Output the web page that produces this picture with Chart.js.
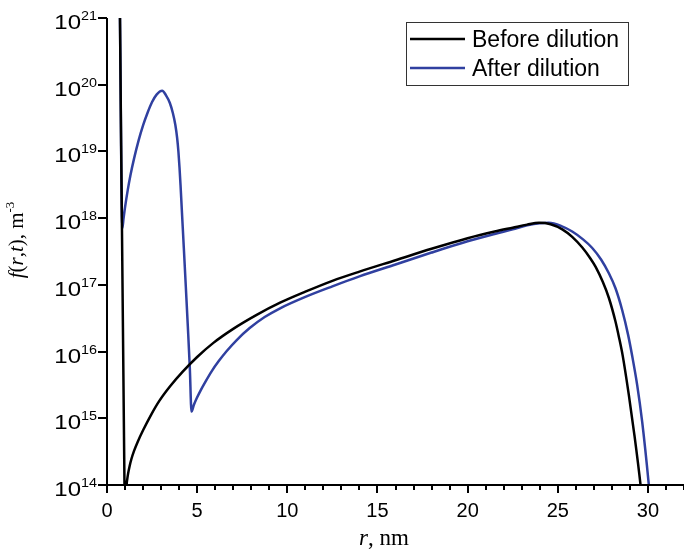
<!DOCTYPE html>
<html>
<head>
<meta charset="utf-8">
<script src="https://cdn.jsdelivr.net/npm/chart.js@4/dist/chart.umd.min.js"></script>
<style>
  html, body { margin: 0; padding: 0; background: #fff; }
</style>
</head>
<body>
<canvas id="sizeChart" width="684" height="550"></canvas>
<script>
// r in nm, f(r,t) in m^-3
const beforeR = [0.70, 0.72, 0.97, 1.00, 1.05, 1.09, 1.12, 1.17, 1.25, 1.35, 1.5, 1.7, 2.0, 2.4, 2.9, 3.5, 4.2, 5.0, 5.9, 7.0, 8.3, 9.6, 11.0, 12.5, 14.0, 16.0, 18.0, 20.0, 21.5, 22.5, 23.3, 23.96, 24.6, 25.25, 25.8, 26.36, 26.8, 27.1, 27.5, 27.84, 28.2, 28.39, 28.6, 28.94, 29.25, 29.59, 29.7];
const beforeF = [4e21, 1e21, 1e14, 3.2e13, 3.2e13, 1e14, 1.2e14, 1.48e14, 1.9e14, 2.43e14, 3.24e14, 4.42e14, 6.6e14, 1.07e15, 1.82e15, 3.02e15, 5e15, 8.3e15, 1.35e16, 2.19e16, 3.55e16, 5.4e16, 7.9e16, 1.15e17, 1.58e17, 2.34e17, 3.47e17, 5e17, 6.3e17, 7.2e17, 8e17, 8.5e17, 8.1e17, 6.8e17, 5.25e17, 3.63e17, 2.51e17, 1.86e17, 1.1e17, 6.3e16, 2.82e16, 1.66e16, 8.7e15, 2.24e15, 5.6e14, 1e14, 5e13];

const afterR = [0.70, 0.72, 0.85, 0.92, 1.0, 1.15, 1.3, 1.5, 1.75, 2.0, 2.25, 2.5, 2.75, 3.06, 3.265, 3.486, 3.652, 3.791, 3.89, 3.962, 4.023, 4.078, 4.15, 4.261, 4.372, 4.482, 4.593, 4.687, 4.815, 4.981, 5.202, 5.479, 5.811, 6.198, 6.641, 7.194, 7.914, 8.744, 9.574, 11.0, 12.5, 14.0, 16.0, 18.0, 20.0, 21.5, 22.5, 23.3, 24.0, 24.5, 25.2, 25.8, 26.4, 26.9, 27.4, 27.84, 28.2, 28.57, 28.9, 29.13, 29.4, 29.68, 30.05, 30.15];
const afterF = [4e21, 1e21, 7.1e17, 1e18, 1.45e18, 2.63e18, 4.4e18, 7.8e18, 1.45e19, 2.45e19, 3.8e19, 5.5e19, 7.1e19, 8.1e19, 7e19, 5.32e19, 3.77e19, 2.49e19, 1.59e19, 9.8e18, 5.64e18, 3.13e18, 1.32e18, 3.56e17, 9.27e16, 2.41e16, 5.66e15, 1.26e15, 1.58e15, 2.01e15, 2.65e15, 3.61e15, 5.1e15, 7.2e15, 1.02e16, 1.49e16, 2.25e16, 3.29e16, 4.42e16, 6.6e16, 9.5e16, 1.34e17, 2.02e17, 3.05e17, 4.5e17, 5.8e17, 6.8e17, 7.8e17, 8.4e17, 8.5e17, 7.6e17, 6.3e17, 4.8e17, 3.6e17, 2.4e17, 1.48e17, 8.9e16, 4.2e16, 1.78e16, 8.5e15, 3.2e15, 8.9e14, 1e14, 5e13];

const seriesNames = ["Before dilution", "After dilution"];
const seriesColors = ["#000000", "#3040a0"];

const xTickLabels = [0, 5, 10, 15, 20, 25, 30];
const yTickExponents = [14, 15, 16, 17, 18, 19, 20, 21];

function toPoints(xs, ys) {
  return xs.map(function (x, i) { return { x: x, y: ys[i] }; });
}

// axes, ticks, labels, titles and legend drawn by hand
const axisDecor = {
  id: "axisDecor",
  afterDraw(chart) {
    const ctx = chart.ctx;
    const xs = chart.scales.x;
    const ys = chart.scales.y;
    const area = chart.chartArea;
    ctx.save();
    ctx.strokeStyle = "#000";
    ctx.fillStyle = "#000";
    ctx.lineWidth = 2;

    // axis lines
    ctx.beginPath();
    ctx.moveTo(area.left, area.top);
    ctx.lineTo(area.left, area.bottom);
    ctx.lineTo(chart.width, area.bottom);
    ctx.stroke();

    // x ticks, minor every 1 nm
    for (let v = 0; v <= 32; v++) {
      const px = Math.round(xs.getPixelForValue(v));
      const len = v % 5 === 0 ? 8 : 5;
      ctx.beginPath();
      ctx.moveTo(px, area.bottom);
      ctx.lineTo(px, area.bottom + len);
      ctx.stroke();
    }
    ctx.font = "20px 'Liberation Sans', Arial, sans-serif";
    ctx.textAlign = "center";
    ctx.textBaseline = "alphabetic";
    xTickLabels.forEach(function (v) {
      ctx.fillText(String(v), xs.getPixelForValue(v), area.bottom + 32);
    });

    // y ticks with 10^n labels (labels a bit wide, like the original)
    const sx = 1.2;
    yTickExponents.forEach(function (e) {
      const py = Math.round(ys.getPixelForValue(Math.pow(10, e)));
      ctx.beginPath();
      ctx.moveTo(area.left - 9, py);
      ctx.lineTo(area.left, py);
      ctx.stroke();
      ctx.save();
      ctx.translate(area.left - 10, 0);
      ctx.scale(sx, 1);
      ctx.textAlign = "right";
      ctx.font = "12px 'Liberation Sans', Arial, sans-serif";
      const expText = String(e);
      const expW = ctx.measureText(expText).width;
      ctx.fillText(expText, 0, py + 2);
      ctx.font = "20px 'Liberation Sans', Arial, sans-serif";
      ctx.fillText("10", -expW, py + 11);
      ctx.restore();
    });

    // x title: r, nm
    const serif = "'Liberation Serif', 'Times New Roman', serif";
    const xParts = [["r", "italic 23px " + serif], [", nm", "23px " + serif]];
    let total = 0;
    xParts.forEach(function (p) { ctx.font = p[1]; total += ctx.measureText(p[0]).width; });
    let cx = 384 - total / 2;
    ctx.textAlign = "left";
    xParts.forEach(function (p) {
      ctx.font = p[1];
      ctx.fillText(p[0], cx, 545);
      cx += ctx.measureText(p[0]).width;
    });

    // y title: f(r,t), m^-3
    const yParts = [
      ["f", "italic 21px " + serif, 0],
      ["(", "21px " + serif, 0],
      ["r", "italic 21px " + serif, 0],
      [",", "21px " + serif, 0],
      ["t", "italic 21px " + serif, 0],
      ["), m", "21px " + serif, 0],
      ["-3", "13px " + serif, 9]
    ];
    total = 0;
    yParts.forEach(function (p) { ctx.font = p[1]; total += ctx.measureText(p[0]).width; });
    ctx.translate(23, 240);
    ctx.rotate(-Math.PI / 2);
    cx = -total / 2;
    yParts.forEach(function (p) {
      ctx.font = p[1];
      ctx.fillText(p[0], cx, -p[2]);
      cx += ctx.measureText(p[0]).width;
    });
    ctx.setTransform(1, 0, 0, 1, 0, 0);

    // legend
    ctx.lineWidth = 1;
    ctx.strokeStyle = "#333";
    ctx.strokeRect(406.5, 22.5, 222, 63);
    ctx.font = "23px 'Liberation Sans', Arial, sans-serif";
    seriesNames.forEach(function (name, i) {
      const y = 39 + i * 29;
      ctx.strokeStyle = seriesColors[i];
      ctx.lineWidth = 2.5;
      ctx.beginPath();
      ctx.moveTo(410, y);
      ctx.lineTo(465, y);
      ctx.stroke();
      ctx.fillStyle = "#000";
      ctx.fillText(name, 472, y + 8);
    });
    ctx.restore();
  }
};

new Chart(document.getElementById("sizeChart"), {
  type: "line",
  data: {
    datasets: [
      {
        label: seriesNames[0],
        data: toPoints(beforeR, beforeF),
        borderColor: seriesColors[0],
        borderWidth: 2.5,
        pointRadius: 0,
        cubicInterpolationMode: "monotone",
        clip: 0,
      },
      {
        label: seriesNames[1],
        data: toPoints(afterR, afterF),
        borderColor: seriesColors[1],
        borderWidth: 2.5,
        pointRadius: 0,
        cubicInterpolationMode: "monotone",
        clip: 0,
      },
    ],
  },
  options: {
    responsive: false,
    devicePixelRatio: 1,
    animation: false,
    layout: { padding: { left: 107, top: 18, right: 0, bottom: 65 } },
    plugins: { legend: { display: false }, tooltip: { enabled: false } },
    scales: {
      x: { type: "linear", min: 0, max: 32, display: false },
      y: { type: "logarithmic", min: 1e14, max: 1e21, display: false },
    },
  },
  plugins: [axisDecor],
});
</script>
</body>
</html>
